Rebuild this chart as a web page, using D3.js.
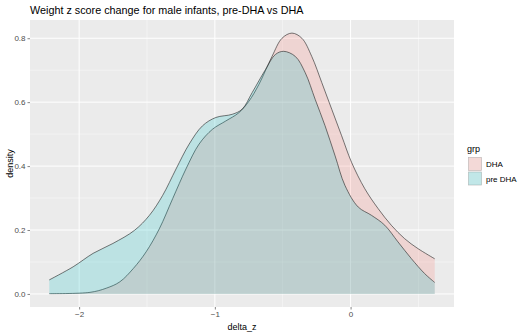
<!DOCTYPE html>
<html><head><meta charset="utf-8">
<script src="https://cdn.jsdelivr.net/npm/d3@7"></script>
<style>body{margin:0;background:#fff;} text{font-family:"Liberation Sans",Arial,sans-serif;}</style>
</head><body><svg id="c" width="524" height="336"></svg>
<script>
const groups = ["DHA", "pre DHA"];
const colors = ["#F8766D", "#00BFC4"];
const xTicks = [-2, -1, 0];
const yTicks = [0.0, 0.2, 0.4, 0.6, 0.8];
const dhaX = [-2.22,-1.92,-1.80,-1.70,-1.60,-1.506,-1.409,-1.311,-1.213,-1.116,-1.018,-0.920,-0.823,-0.749,-0.676,-0.579,-0.505,-0.432,-0.359,-0.286,-0.212,-0.139,-0.066,0.007,0.105,0.203,0.30,0.398,0.496,0.62];
const dhaY = [0.001,0.005,0.018,0.038,0.080,0.132,0.204,0.298,0.391,0.469,0.515,0.541,0.567,0.603,0.655,0.743,0.800,0.816,0.800,0.743,0.661,0.578,0.495,0.412,0.329,0.267,0.215,0.173,0.142,0.110];
const preX = [-2.22,-2.044,-1.897,-1.751,-1.592,-1.482,-1.385,-1.286,-1.189,-1.091,-0.993,-0.872,-0.799,-0.725,-0.627,-0.554,-0.493,-0.407,-0.334,-0.261,-0.188,-0.114,-0.041,0.056,0.154,0.252,0.349,0.447,0.545,0.62];
const preY = [0.044,0.085,0.127,0.158,0.199,0.246,0.308,0.391,0.469,0.526,0.552,0.562,0.578,0.630,0.702,0.749,0.759,0.743,0.692,0.609,0.526,0.432,0.339,0.272,0.246,0.215,0.163,0.111,0.064,0.036];

const svg = d3.select("#c");
const L = 30, R = 454, T = 20, B = 307;
const x = d3.scaleLinear().domain([-2.362, 0.762]).range([L, R]);
const y = d3.scaleLinear().domain([-0.0408, 0.857]).range([B, T]);

svg.append("rect").attr("x", L).attr("y", T).attr("width", R - L).attr("height", B - T).attr("fill", "#EBEBEB");
const g = svg.append("g");
[-1.5, -0.5, 0.5].forEach(v => g.append("line").attr("x1", x(v)).attr("x2", x(v)).attr("y1", T).attr("y2", B).attr("stroke", "#fff").attr("stroke-width", 0.55).attr("opacity", 0.8));
[0.1, 0.3, 0.5, 0.7].forEach(v => g.append("line").attr("y1", y(v)).attr("y2", y(v)).attr("x1", L).attr("x2", R).attr("stroke", "#fff").attr("stroke-width", 0.55).attr("opacity", 0.8));
xTicks.forEach(v => g.append("line").attr("x1", x(v)).attr("x2", x(v)).attr("y1", T).attr("y2", B).attr("stroke", "#fff").attr("stroke-width", 1));
yTicks.forEach(v => g.append("line").attr("y1", y(v)).attr("y2", y(v)).attr("x1", L).attr("x2", R).attr("stroke", "#fff").attr("stroke-width", 1));

const series = [{xs: dhaX, ys: dhaY}, {xs: preX, ys: preY}];
series.forEach((s, i) => {
  const pts = s.xs.map((v, k) => [v, s.ys[k]]);
  const area = d3.area().x(d => x(d[0])).y0(y(0)).y1(d => y(d[1])).curve(d3.curveCatmullRom.alpha(0.5));
  const line = d3.line().x(d => x(d[0])).y(d => y(d[1])).curve(d3.curveCatmullRom.alpha(0.5));
  svg.append("path").attr("d", area(pts)).attr("fill", colors[i]).attr("fill-opacity", 0.2);
  svg.append("path").attr("d", line(pts)).attr("fill", "none").attr("stroke", "#222").attr("stroke-width", 0.6);
});

const ax = svg.append("g").attr("transform", `translate(0,${B})`).call(d3.axisBottom(x).tickValues(xTicks).tickSize(2.5).tickPadding(2).tickFormat(d3.format("d")));
const ay = svg.append("g").attr("transform", `translate(${L},0)`).call(d3.axisLeft(y).tickValues(yTicks).tickSize(2.5).tickPadding(2).tickFormat(d3.format(".1f")));
[ax, ay].forEach(a => {
  a.select(".domain").remove();
  a.selectAll(".tick line").attr("stroke", "#333").attr("stroke-width", 0.6);
  a.selectAll(".tick text").attr("fill", "#4D4D4D").attr("font-size", 8).style("font-family", "Liberation Sans, Arial, sans-serif");
});

svg.append("text").attr("x", L).attr("y", 14).attr("font-size", 10.8).attr("fill", "#000").text("Weight z score change for male infants, pre-DHA vs DHA");
svg.append("text").attr("x", (L + R) / 2).attr("y", 330).attr("text-anchor", "middle").attr("font-size", 9).text("delta_z");
svg.append("text").attr("transform", `translate(13,${(T + B) / 2}) rotate(-90)`).attr("text-anchor", "middle").attr("font-size", 9).text("density");

const lg = svg.append("g");
lg.append("text").attr("x", 467).attr("y", 152).attr("font-size", 9).text("grp");
groups.forEach((gname, i) => {
  const yy = 157 + i * 14.5;
  lg.append("rect").attr("x", 468).attr("y", yy).attr("width", 14).attr("height", 14).attr("fill", "#F2F2F2");
  lg.append("rect").attr("x", 468.5).attr("y", yy + 0.5).attr("width", 13).attr("height", 13).attr("fill", colors[i]).attr("fill-opacity", 0.2).attr("stroke", "#555").attr("stroke-opacity", 0.35).attr("stroke-width", 0.6);
  lg.append("text").attr("x", 486).attr("y", yy + 10).attr("font-size", 8).text(gname);
});
</script></body></html>
